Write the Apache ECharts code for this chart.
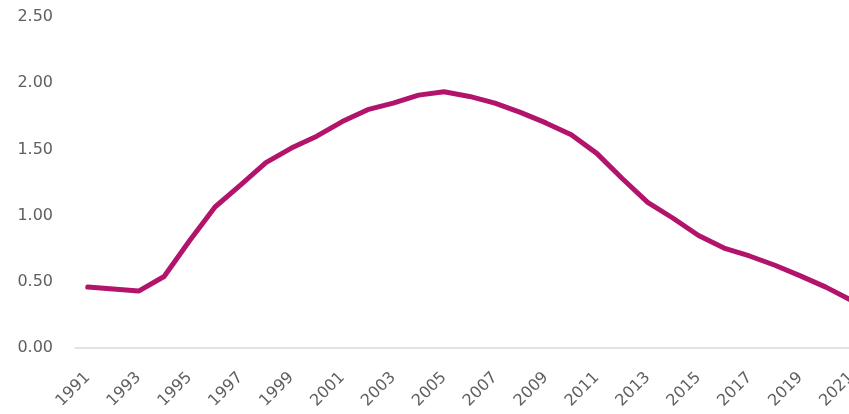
<!DOCTYPE html>
<html>
<head>
<meta charset="utf-8">
<script src="https://cdn.jsdelivr.net/npm/echarts@6/dist/echarts.min.js"></script>
<style>
  html, body { margin: 0; padding: 0; background: #ffffff; overflow: hidden; }
  /* the plot runs a little past the right edge of the window, so the last year is cut */
  #chart { width: 864px; height: 414px; }
</style>
</head>
<body>
<div id="chart"></div>
<script>
// Years on the category axis
const years = [
  '1991', '1992', '1993', '1994', '1995', '1996', '1997', '1998', '1999', '2000',
  '2001', '2002', '2003', '2004', '2005', '2006', '2007', '2008', '2009', '2010',
  '2011', '2012', '2013', '2014', '2015', '2016', '2017', '2018', '2019', '2020',
  '2021'
];

// Annual values
const values = [
  0.46, 0.445, 0.43, 0.54, 0.81, 1.065, 1.23, 1.40, 1.51, 1.60,
  1.71, 1.80, 1.85, 1.91, 1.935, 1.90, 1.85, 1.78, 1.70, 1.61,
  1.47, 1.28, 1.10, 0.98, 0.85, 0.755, 0.695, 0.625, 0.545, 0.46,
  0.36
];

// Value axis range
const yMin = 0;
const yMax = 2.5;
const yStep = 0.5;

const labelFont = 'DejaVu Sans';
const labelColor = '#5f5f5f';

const chart = echarts.init(document.getElementById('chart'));
chart.setOption({
  animation: false,
  backgroundColor: '#ffffff',
  grid: { left: 75, right: 0, top: 17, bottom: 66, containLabel: false },
  xAxis: {
    type: 'category',
    data: years,
    boundaryGap: true,
    axisLine: { show: true, lineStyle: { color: '#d9d9d9', width: 1.5 } },
    axisTick: { show: false },
    axisLabel: {
      interval: 1,
      rotate: 45,
      margin: 27,
      color: labelColor,
      fontFamily: labelFont,
      fontSize: 16
    },
    splitLine: { show: false }
  },
  yAxis: {
    type: 'value',
    min: yMin,
    max: yMax,
    interval: yStep,
    axisLine: { show: false },
    axisTick: { show: false },
    splitLine: { show: false },
    axisLabel: {
      margin: 22,
      color: labelColor,
      fontFamily: labelFont,
      fontSize: 16,
      formatter: v => v.toFixed(2)
    }
  },
  series: [{
    type: 'line',
    data: values,
    symbol: 'none',
    smooth: false,
    lineStyle: { color: '#b3146b', width: 5, cap: 'round', join: 'round' }
  }]
});
</script>
</body>
</html>
